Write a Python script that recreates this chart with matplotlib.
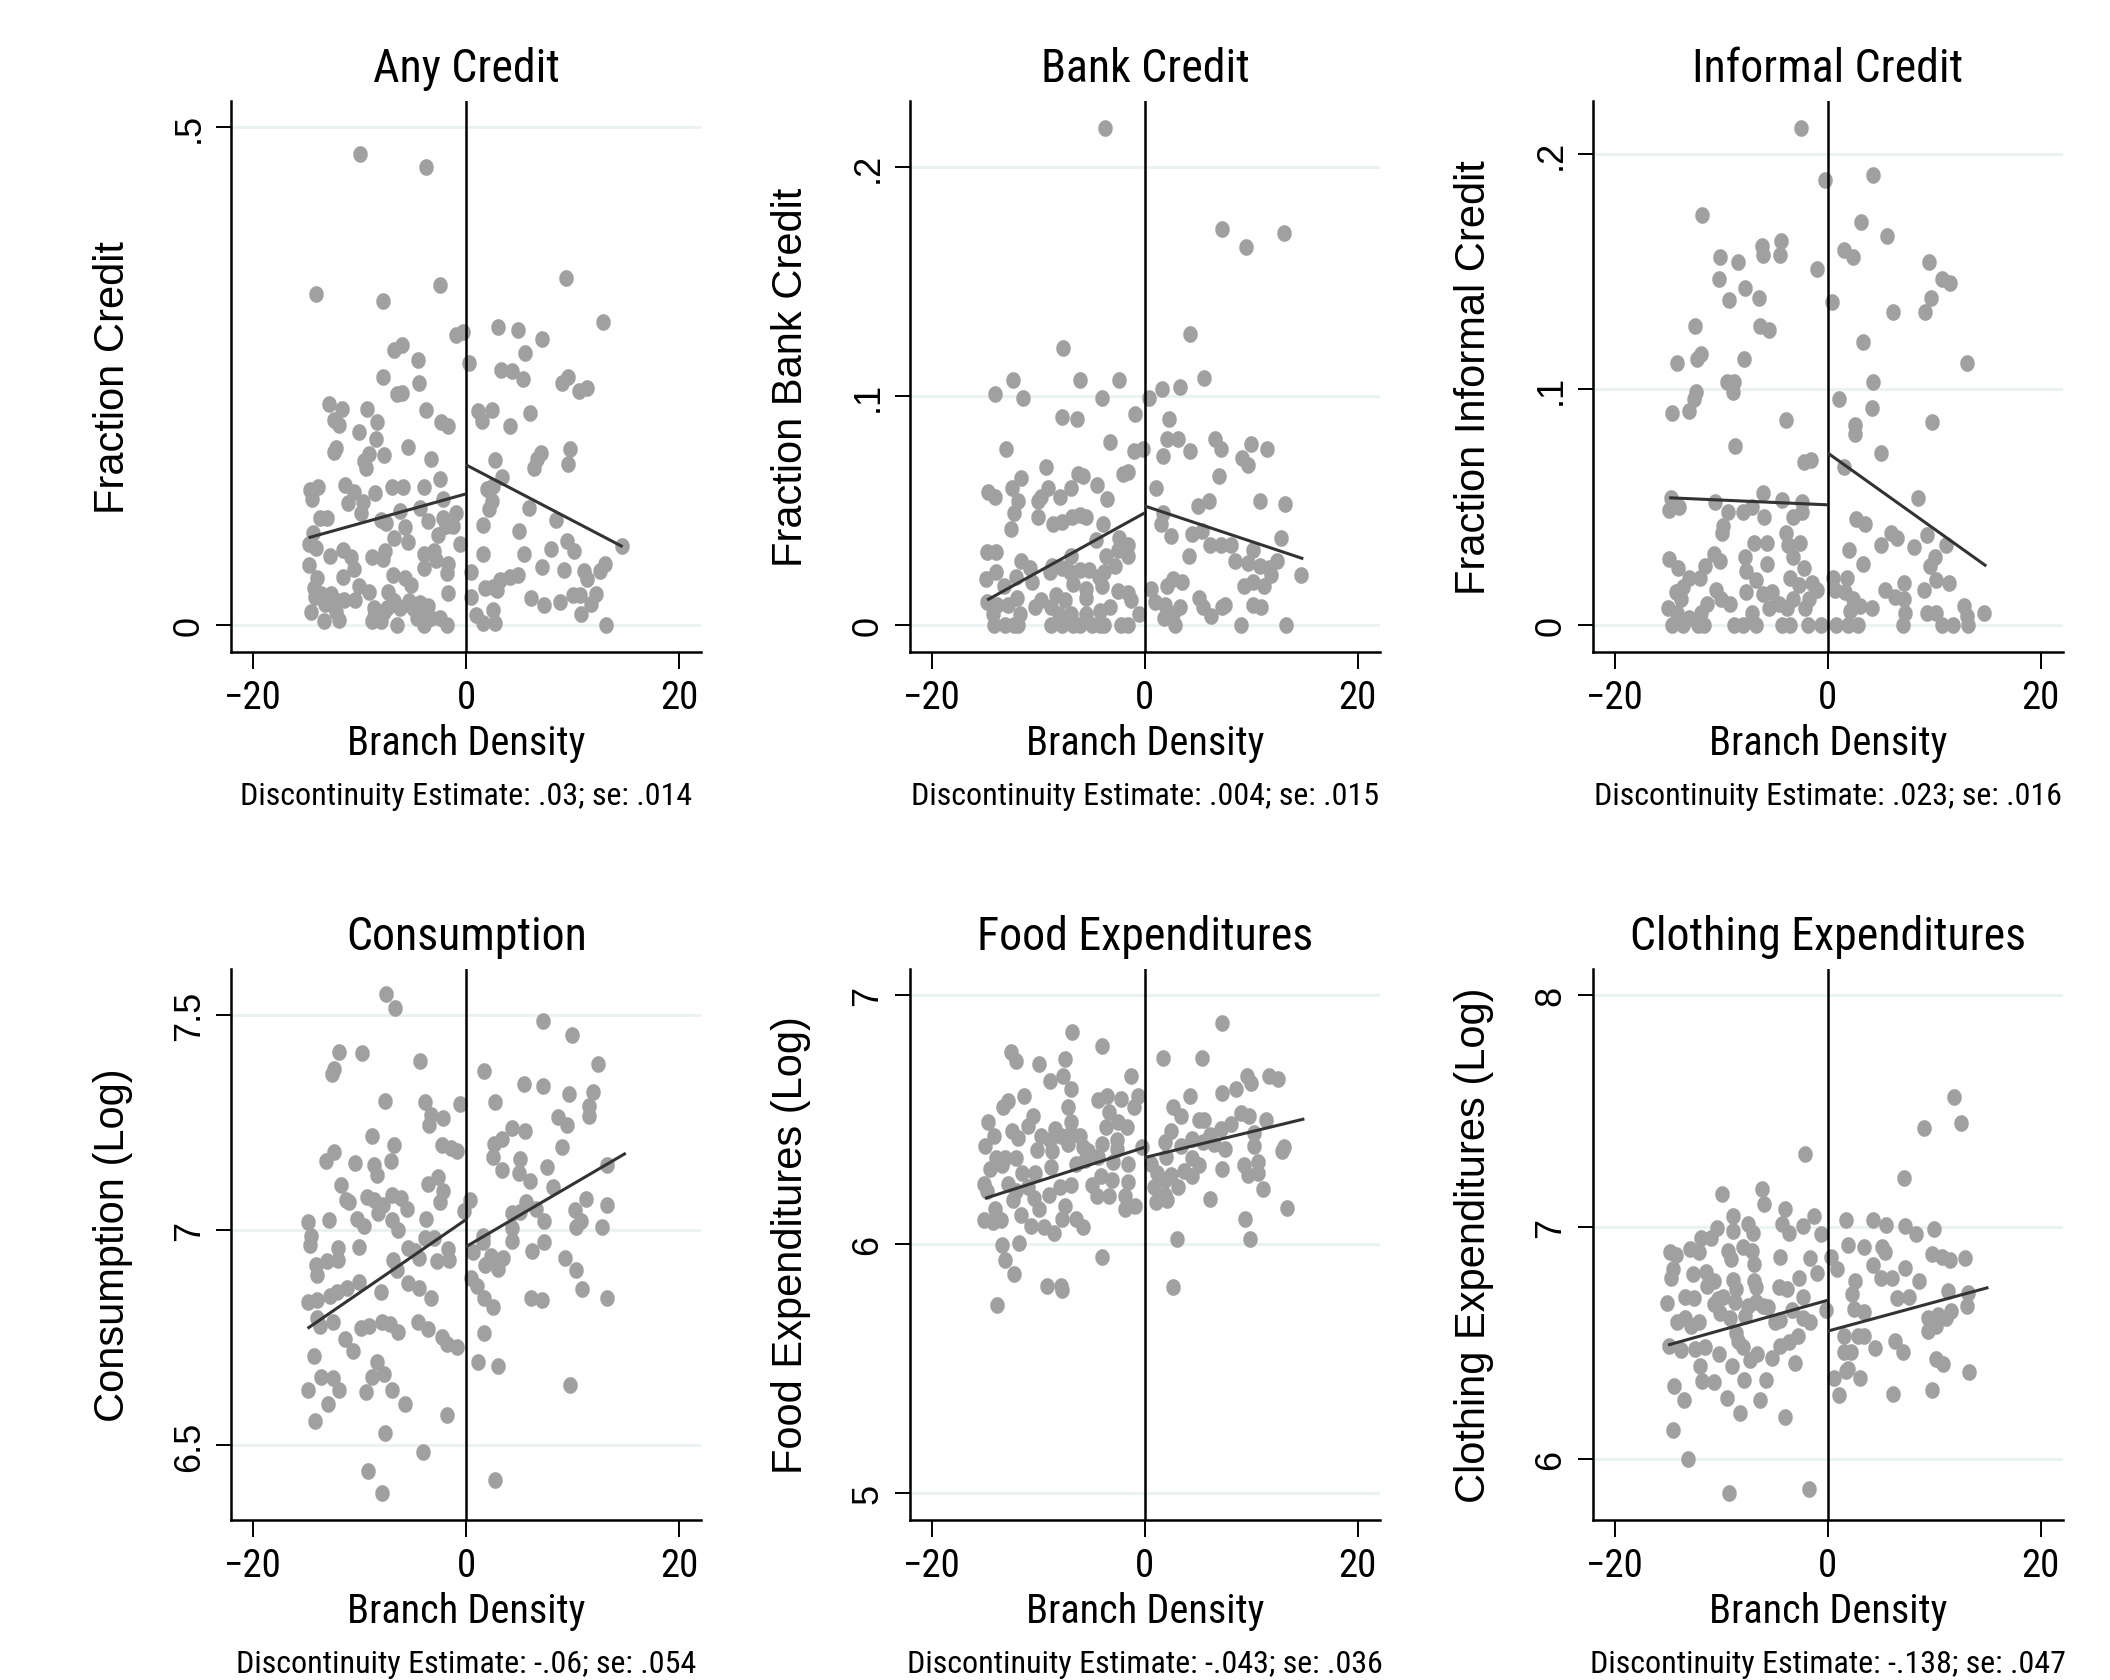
import numpy as np
import matplotlib.pyplot as plt
from matplotlib.path import Path
from matplotlib import font_manager

# ---- data (branch density, outcome) ----
any_credit_pts = [
    (-10.0, .473), (-3.8, .460), (-14.1, .332), (-7.8, .325), (-2.5, .341), (9.4, .348), (12.9, .304),
    (-1.0, .291), (-0.3, .294), (3.0, .299), (4.9, .296), (7.1, .287), (5.5, .273), (-6.8, .276),
    (-6.0, .281), (-4.5, .266), (0.3, .263), (-7.8, .249), (-4.4, .243), (-6.5, .232), (-6.0, .233),
    (3.3, .256), (4.3, .255), (5.3, .247), (9.0, .243), (9.6, .249), (10.6, .235), (11.4, .238),
    (-12.9, .222), (-11.7, .217), (-9.3, .217), (-3.8, .216), (1.1, .215), (2.4, .216), (1.5, .205),
    (-12.4, .206), (-11.9, .201), (-8.4, .204), (-2.4, .204), (-1.7, .200), (4.1, .200), (6.0, .213),
    (-10.1, .194), (-8.5, .187), (-5.5, .179), (-12.4, .174), (-12.2, .178), (-9.1, .172), (-7.7, .171),
    (-3.3, .167), (-9.4, .158), (-9.6, .165), (2.7, .166), (7.0, .173), (6.7, .167), (6.4, .158),
    (9.8, .177), (9.6, .162), (3.4, .149), (-2.5, .147), (-14.7, .136), (-13.9, .139), (-14.5, .127),
    (-11.4, .141), (-10.5, .134), (-11.1, .123), (-9.7, .124), (-9.9, .113), (-8.6, .133), (-7.0, .139),
    (-5.9, .139), (-4.0, .139), (-2.2, .127), (-4.3, .118), (-6.2, .115), (-1.0, .113), (2.0, .137),
    (2.5, .140), (2.4, .125), (2.1, .117), (5.9, .118), (8.4, .106), (-13.7, .108), (-13.1, .108),
    (-8.0, .106), (-7.5, .103), (-5.7, .099), (-3.6, .105), (-2.2, .108), (-1.9, .100), (-1.2, .100),
    (-2.6, .091), (-6.8, .088), (-5.5, .084), (-14.4, .093), (-14.8, .082), (-14.1, .078), (-0.6, .082),
    (1.6, .101), (5.0, .095), (9.5, .085), (10.1, .075), (8.0, .077), (5.4, .072), (14.6, .080),
    (1.6, .072), (-12.8, .070), (-11.6, .076), (-10.8, .069), (-10.5, .057), (-8.8, .069), (-7.8, .067),
    (-7.6, .075), (-4.0, .072), (-3.0, .075), (-2.8, .066), (-1.7, .062), (-4.0, .058), (-1.8, .053),
    (-14.8, .061), (-14.0, .048), (-11.6, .049), (-6.9, .051), (-5.7, .048), (-5.2, .041), (0.5, .054),
    (7.1, .059), (9.2, .056), (11.1, .055), (11.4, .047), (12.6, .055), (13.0, .062), (4.1, .049),
    (4.9, .051), (3.2, .046), (2.5, .039), (1.8, .038), (2.9, .036), (0.5, .029), (6.1, .028),
    (7.3, .021), (8.8, .024), (10.0, .031), (10.7, .031), (12.2, .032), (11.7, .022), (10.8, .011),
    (13.1, .000), (0.9, .010), (1.6, .002), (2.5, .015), (2.7, .002), (-1.7, .033), (-9.1, .034),
    (-10.1, .040), (-10.4, .026), (-14.3, .038), (-14.2, .029), (-13.6, .032), (-12.7, .032), (-13.3, .022),
    (-14.6, .013), (-12.1, .025), (-11.5, .026), (-11.9, .005), (-13.4, .004), (-8.7, .018), (-8.7, .008),
    (-8.0, .004), (-7.3, .034), (-6.8, .025), (-7.4, .018), (-6.5, .000), (-6.2, .018), (-5.4, .025),
    (-5.0, .018), (-4.3, .023), (-3.6, .020), (-4.0, .007), (-4.0, .000), (-3.3, .007), (-2.5, .007),
    (-1.8, .000), (-4.6, .007), (-8.8, .004), (-7.7, .013), (-12.2, .013), (-12.7, .022),
]

bank_credit_pts = [
    (-3.7, .217), (7.3, .173), (9.5, .165), (13.1, .171), (4.3, .127), (-7.7, .121), (-12.4, .107),
    (-6.1, .107), (-2.4, .107), (5.6, .108), (1.6, .103), (3.3, .104), (-14.1, .101), (-11.4, .099),
    (-4.0, .099), (0.4, .099), (-7.8, .091), (-6.4, .090), (-0.9, .092), (2.3, .090), (-13.0, .077),
    (-3.3, .080), (-1.0, .076), (-0.2, .077), (2.1, .081), (3.1, .081), (4.3, .076), (1.7, .074),
    (6.6, .081), (7.2, .077), (10.0, .079), (11.5, .077), (9.1, .073), (9.7, .070), (7.0, .065),
    (-9.3, .069), (-11.6, .064), (-12.5, .060), (-14.7, .058), (-14.1, .056), (-11.9, .054), (-12.3, .049),
    (-12.6, .042), (-10.0, .054), (-9.7, .056), (-9.1, .060), (-8.0, .056), (-10.0, .047), (-8.6, .044),
    (-7.8, .045), (-6.9, .060), (-6.3, .066), (-5.8, .065), (-4.5, .061), (-3.5, .055), (-6.8, .047),
    (-6.1, .048), (-5.5, .047), (-3.9, .044), (-2.0, .066), (-1.6, .067), (1.1, .060), (5.0, .052),
    (6.0, .054), (10.8, .054), (13.2, .053), (1.7, .049), (1.5, .044), (2.5, .039), (4.4, .040),
    (5.4, .041), (6.1, .035), (7.2, .035), (8.1, .035), (12.8, .038), (4.2, .030), (10.2, .033),
    (8.5, .028), (9.7, .027), (10.8, .026), (11.7, .025), (12.4, .028), (11.9, .022), (14.7, .022),
    (9.3, .017), (10.2, .019), (11.2, .017), (10.2, .009), (10.9, .008), (9.0, .000), (13.3, .000),
    (5.1, .012), (5.5, .008), (6.2, .004), (7.3, .008), (7.5, .009), (2.1, .017), (2.7, .020),
    (3.5, .019), (0.6, .016), (1.0, .010), (1.9, .009), (3.3, .008), (1.8, .003), (2.8, .000),
    (2.7, .005), (-0.5, .005), (-14.8, .032), (-14.0, .032), (-11.6, .028), (-10.8, .025), (-10.6, .019),
    (-14.9, .020), (-14.0, .023), (-13.2, .017), (-12.1, .021), (-14.8, .010), (-13.9, .009), (-14.3, .005),
    (-14.2, .000), (-13.1, .000), (-12.3, .000), (-11.9, .000), (-12.8, .009), (-11.7, .005), (-12.0, .012),
    (-10.3, .008), (-9.7, .011), (-8.8, .008), (-8.8, .000), (-7.8, .000), (-8.1, .005), (-8.3, .013),
    (-7.5, .011), (-6.9, .005), (-6.7, .000), (-6.1, .000), (-5.5, .005), (-5.5, .012), (-5.5, .016),
    (-5.0, .000), (-4.2, .000), (-3.8, .000), (-4.2, .006), (-3.3, .008), (-4.0, .017), (-4.3, .021),
    (-2.5, .015), (-1.6, .014), (-1.3, .011), (-2.2, .000), (-1.6, .000), (-8.7, .026), (-8.9, .023),
    (-7.8, .025), (-6.9, .030), (-7.0, .023), (-6.7, .018), (-6.1, .024), (-5.2, .024), (-4.6, .037),
    (-3.8, .023), (-3.6, .030), (-2.8, .026), (-2.4, .038), (-1.6, .035), (-1.6, .030), (-2.5, .033),
]

informal_credit_pts = [
    (-2.5, .211), (-0.3, .189), (4.3, .191), (-11.8, .174), (3.1, .171), (5.6, .165), (-6.2, .161),
    (-6.1, .157), (-4.4, .163), (-4.5, .157), (-10.1, .156), (-8.4, .154), (1.5, .159), (2.4, .156),
    (-1.0, .151), (9.5, .154), (10.7, .147), (11.5, .145), (-10.2, .147), (-7.8, .143), (-9.3, .138),
    (-6.5, .139), (0.4, .137), (6.1, .133), (9.1, .133), (9.7, .139), (-12.5, .127), (-6.4, .127),
    (-5.5, .125), (3.3, .120), (-11.9, .115), (-12.3, .113), (-14.2, .111), (-7.9, .113), (13.1, .111),
    (-9.5, .103), (-8.8, .103), (-8.9, .099), (-12.4, .099), (-12.6, .096), (-13.0, .091), (-14.6, .090),
    (4.3, .103), (1.1, .096), (4.2, .092), (-3.9, .087), (2.6, .085), (2.6, .081), (9.8, .086),
    (-8.7, .076), (-2.2, .069), (-1.6, .070), (1.5, .067), (5.0, .073), (-14.7, .054), (-14.9, .049),
    (-14.0, .050), (-10.6, .052), (-9.4, .048), (-8.0, .048), (-7.1, .050), (-6.1, .056), (-6.0, .046),
    (-4.3, .053), (-3.3, .046), (-2.4, .048), (-2.4, .052), (-9.8, .042), (-9.9, .039), (8.5, .054),
    (2.7, .045), (3.5, .043), (5.9, .039), (6.5, .037), (5.0, .034), (8.1, .033), (9.3, .038),
    (11.1, .034), (2.0, .032), (3.3, .026), (10.1, .029), (9.6, .025), (10.2, .019), (11.4, .018),
    (9.0, .015), (7.2, .018), (5.4, .015), (6.3, .012), (7.2, .011), (4.2, .007), (7.3, .005),
    (7.1, .000), (9.3, .005), (10.2, .005), (10.7, .000), (11.8, .000), (12.8, .008), (13.1, .004),
    (13.2, .000), (14.7, .005), (-6.9, .035), (-5.7, .035), (-3.9, .039), (-3.7, .034), (-2.6, .035),
    (-3.3, .029), (-2.2, .024), (-5.7, .026), (-7.8, .029), (-7.7, .023), (-14.9, .028), (-14.1, .024),
    (-10.7, .030), (-10.1, .027), (-11.5, .025), (-12.0, .020), (-13.0, .020), (-13.6, .016), (-14.3, .014),
    (-13.8, .011), (-15.0, .007), (-14.2, .005), (-14.6, .000), (-13.6, .000), (-13.0, .003), (-12.2, .000),
    (-11.6, .000), (-11.9, .005), (-11.3, .009), (-10.5, .015), (-10.0, .011), (-9.2, .009), (-8.8, .000),
    (-8.0, .000), (-7.1, .005), (-6.7, .000), (-7.7, .014), (-6.7, .019), (-6.1, .013), (-5.2, .014),
    (-5.5, .007), (-4.6, .009), (-4.3, .000), (-3.5, .000), (-3.8, .007), (-3.3, .011), (-3.5, .020),
    (-2.7, .017), (-1.5, .018), (-1.0, .015), (-1.8, .011), (-2.1, .007), (-1.9, .000), (-0.6, .000),
    (0.5, .020), (1.8, .020), (0.7, .015), (1.6, .014), (2.4, .011), (3.0, .008), (2.1, .006),
    (0.8, .000), (1.9, .000), (2.8, .000),
]

consumption_pts = [
    (-7.5, 7.548), (-6.7, 7.517), (7.2, 7.485), (9.9, 7.453), (-11.9, 7.415), (-9.8, 7.411), (-4.3, 7.393),
    (12.4, 7.386), (-12.6, 7.362), (-12.4, 7.374), (1.7, 7.369), (5.4, 7.340), (7.2, 7.334), (9.7, 7.316),
    (11.9, 7.322), (-7.6, 7.300), (-3.9, 7.299), (-0.6, 7.293), (2.7, 7.299), (-3.3, 7.267), (-3.5, 7.245),
    (-2.2, 7.261), (11.5, 7.288), (11.5, 7.266), (8.6, 7.262), (9.5, 7.244), (4.3, 7.238), (5.5, 7.230),
    (-8.8, 7.220), (-6.8, 7.197), (-2.3, 7.197), (-0.9, 7.183), (-1.4, 7.191), (2.6, 7.201), (3.4, 7.212),
    (9.0, 7.193), (-12.4, 7.181), (-13.2, 7.162), (-10.4, 7.157), (-7.1, 7.161), (-8.7, 7.152), (-8.4, 7.129),
    (2.5, 7.169), (5.1, 7.166), (3.4, 7.140), (5.0, 7.134), (6.0, 7.115), (7.6, 7.146), (13.2, 7.151),
    (-2.6, 7.123), (-3.6, 7.107), (-11.8, 7.104), (-11.0, 7.066), (-11.3, 7.070), (-9.3, 7.077), (-8.7, 7.070),
    (-8.3, 7.041), (-7.8, 7.058), (-7.0, 7.083), (-6.1, 7.074), (-5.6, 7.049), (-7.0, 7.024), (-6.4, 7.000),
    (-2.2, 7.091), (-2.5, 7.066), (0.4, 7.070), (-0.2, 7.045), (8.2, 7.100), (5.6, 7.066), (4.3, 7.041),
    (5.1, 7.043), (6.6, 7.049), (11.3, 7.073), (10.2, 7.047), (13.2, 7.059), (10.8, 7.022), (10.3, 7.008),
    (7.3, 7.021), (4.3, 7.005), (12.8, 7.007), (-14.9, 7.019), (-12.9, 7.024), (-10.3, 7.025), (-9.6, 7.011),
    (-3.8, 7.025), (-14.6, 6.986), (-14.7, 6.966), (-12.0, 6.958), (-12.0, 6.932), (-10.1, 6.962), (-13.1, 6.929),
    (-14.1, 6.920), (-14.0, 6.895), (-6.9, 6.931), (-6.5, 6.907), (-5.5, 6.959), (-4.8, 6.952), (-4.4, 6.935),
    (-3.9, 6.981), (-3.0, 6.981), (-2.7, 6.928), (-1.7, 6.956), (-1.6, 6.932), (0.6, 6.949), (1.6, 6.986),
    (1.6, 6.973), (2.3, 6.941), (1.8, 6.920), (3.0, 6.909), (3.5, 6.935), (4.3, 6.975), (6.2, 6.952),
    (7.3, 6.973), (9.3, 6.935), (10.3, 6.907), (10.9, 6.863), (13.2, 6.843), (0.5, 6.888), (1.0, 6.871),
    (1.7, 6.842), (2.5, 6.821), (6.1, 6.842), (7.1, 6.838), (-14.9, 6.833), (-14.0, 6.838), (-12.8, 6.848),
    (-12.1, 6.856), (-11.2, 6.865), (-10.1, 6.880), (-8.0, 6.856), (-5.5, 6.877), (-4.4, 6.865), (-3.3, 6.843),
    (-14.0, 6.795), (-13.7, 6.777), (-12.5, 6.788), (-9.9, 6.774), (-9.1, 6.778), (-7.9, 6.787), (-7.2, 6.783),
    (-6.4, 6.763), (-4.5, 6.788), (-3.6, 6.770), (-2.3, 6.753), (-1.8, 6.736), (-0.9, 6.728), (-11.4, 6.747),
    (-10.6, 6.719), (1.7, 6.761), (-14.3, 6.708), (-8.4, 6.695), (1.1, 6.695), (3.0, 6.684), (-13.6, 6.660),
    (-12.5, 6.656), (-11.9, 6.630), (-8.8, 6.660), (-7.7, 6.666), (-14.9, 6.630), (-9.4, 6.624), (-7.0, 6.629),
    (9.8, 6.641), (-13.0, 6.596), (-5.7, 6.596), (-14.2, 6.558), (-1.8, 6.571), (-7.6, 6.529), (-4.1, 6.486),
    (-9.2, 6.440), (2.7, 6.421), (-7.9, 6.389),
]

food_pts = [
    (7.3, 6.886), (-6.8, 6.851), (-4.0, 6.793), (-12.6, 6.771), (-12.1, 6.734), (-9.9, 6.721), (-7.5, 6.740),
    (1.7, 6.747), (5.4, 6.746), (-8.9, 6.654), (-7.7, 6.672), (-6.9, 6.620), (-1.3, 6.672), (9.6, 6.672),
    (10.0, 6.647), (11.7, 6.674), (12.5, 6.661), (8.6, 6.620), (7.3, 6.603), (4.3, 6.594), (-11.3, 6.591),
    (-12.8, 6.572), (-13.3, 6.547), (-4.4, 6.577), (-3.5, 6.594), (-2.2, 6.581), (-0.6, 6.591), (-1.0, 6.547),
    (-7.2, 6.547), (-3.4, 6.530), (2.7, 6.547), (3.4, 6.514), (-14.7, 6.489), (-10.5, 6.514), (-11.0, 6.474),
    (-6.9, 6.489), (-2.5, 6.489), (-1.7, 6.467), (-3.6, 6.467), (5.1, 6.496), (5.6, 6.496), (9.0, 6.526),
    (9.8, 6.511), (11.4, 6.496), (8.1, 6.482), (7.2, 6.460), (-12.5, 6.453), (-11.9, 6.423), (-14.2, 6.431),
    (-15.0, 6.394), (-9.7, 6.431), (-8.4, 6.460), (-8.9, 6.416), (-7.9, 6.431), (-6.9, 6.445), (-6.1, 6.431),
    (-5.8, 6.387), (-7.2, 6.401), (-5.3, 6.372), (-4.0, 6.401), (-2.6, 6.416), (-2.6, 6.380), (-0.3, 6.387),
    (-8.7, 6.372), (-10.1, 6.377), (2.5, 6.453), (1.9, 6.409), (3.4, 6.394), (4.4, 6.419), (5.5, 6.409),
    (6.1, 6.438), (6.5, 6.401), (7.5, 6.380), (10.3, 6.445), (10.3, 6.394), (13.1, 6.387), (12.9, 6.372),
    (2.0, 6.350), (0.6, 6.321), (-14.0, 6.343), (-13.1, 6.343), (-12.1, 6.343), (-14.5, 6.299), (-13.4, 6.314),
    (-11.5, 6.285), (-10.3, 6.285), (-8.8, 6.307), (-6.5, 6.321), (-5.6, 6.336), (-4.4, 6.350), (-3.0, 6.328),
    (-1.6, 6.321), (-4.1, 6.270), (-3.1, 6.255), (-1.6, 6.248), (4.4, 6.343), (5.1, 6.314), (3.7, 6.292),
    (4.4, 6.270), (7.3, 6.299), (9.3, 6.314), (10.6, 6.328), (9.7, 6.277), (10.6, 6.285), (1.2, 6.285),
    (1.9, 6.255), (2.5, 6.277), (3.1, 6.226), (0.9, 6.226), (1.9, 6.197), (1.1, 6.168), (2.1, 6.175),
    (11.1, 6.219), (6.1, 6.180), (13.4, 6.142), (9.4, 6.099), (9.9, 6.020), (3.0, 6.019), (2.7, 5.825),
    (-15.1, 6.241), (-14.8, 6.212), (-12.8, 6.241), (-12.1, 6.212), (-11.0, 6.226), (-12.4, 6.175), (-10.4, 6.182),
    (-9.9, 6.139), (-9.0, 6.197), (-8.0, 6.226), (-6.9, 6.234), (-7.5, 6.153), (-5.0, 6.234), (-4.5, 6.190),
    (-3.4, 6.193), (-1.9, 6.190), (-1.9, 6.139), (-0.9, 6.153), (-15.1, 6.095), (-14.3, 6.088), (-13.5, 6.095),
    (-14.1, 6.139), (-11.6, 6.117), (-10.7, 6.073), (-9.5, 6.066), (-8.5, 6.041), (-7.8, 6.098), (-6.5, 6.098),
    (-5.8, 6.066), (-13.4, 5.993), (-11.8, 6.004), (-13.1, 5.934), (-12.3, 5.880), (-4.0, 5.945), (-9.2, 5.832),
    (-7.9, 5.829), (-7.8, 5.815), (-13.9, 5.755),
]

clothing_pts = [
    (11.9, 7.561), (12.5, 7.447), (9.0, 7.426), (-2.1, 7.313), (7.2, 7.212), (-9.9, 7.139), (-6.2, 7.161),
    (-6.0, 7.099), (-4.0, 7.078), (-8.9, 7.044), (-7.5, 7.013), (-7.0, 6.973), (-8.9, 6.981), (-10.4, 6.994),
    (-11.0, 6.950), (-11.9, 6.953), (-4.3, 7.013), (-3.6, 6.973), (-2.3, 7.005), (-1.3, 7.047), (-0.6, 6.969),
    (1.7, 7.031), (4.3, 7.031), (5.5, 7.008), (7.3, 7.005), (8.3, 6.969), (10.0, 6.989), (1.9, 6.923),
    (3.4, 6.911), (5.1, 6.911), (5.4, 6.890), (9.8, 6.884), (10.7, 6.868), (11.5, 6.856), (12.9, 6.867),
    (7.3, 6.821), (4.3, 6.835), (5.0, 6.781), (6.0, 6.781), (8.6, 6.768), (0.3, 6.868), (0.9, 6.817),
    (-1.7, 6.864), (-4.5, 6.868), (-6.9, 6.840), (-8.0, 6.911), (-7.1, 6.895), (-9.4, 6.895), (-9.1, 6.860),
    (-12.9, 6.903), (-12.1, 6.890), (-14.8, 6.890), (-14.3, 6.879), (-14.5, 6.817), (-14.7, 6.777), (-12.7, 6.796),
    (-11.4, 6.806), (-10.7, 6.765), (-11.3, 6.746), (-8.9, 6.770), (-8.6, 6.730), (-6.9, 6.765), (-6.7, 6.738),
    (-4.6, 6.738), (-3.8, 6.730), (-2.7, 6.777), (-1.0, 6.801), (-2.3, 6.699), (2.6, 6.766), (2.3, 6.712),
    (2.5, 6.644), (3.4, 6.633), (6.5, 6.691), (7.6, 6.699), (11.3, 6.723), (13.2, 6.715), (13.1, 6.660),
    (11.6, 6.636), (9.4, 6.605), (10.4, 6.621), (9.8, 6.589), (11.1, 6.605), (9.4, 6.550), (10.2, 6.574),
    (-13.4, 6.699), (-12.6, 6.691), (-15.1, 6.671), (-10.7, 6.668), (-10.3, 6.687), (-9.8, 6.699), (-8.7, 6.676),
    (-10.1, 6.629), (-9.2, 6.605), (-7.5, 6.660), (-6.7, 6.676), (-6.1, 6.660), (-5.6, 6.652), (-7.8, 6.613),
    (-5.0, 6.589), (-4.5, 6.597), (-3.4, 6.640), (-2.3, 6.605), (-1.7, 6.589), (-0.2, 6.640), (-14.2, 6.589),
    (-13.4, 6.605), (-12.1, 6.589), (-12.8, 6.574), (-14.9, 6.487), (-13.8, 6.467), (-12.5, 6.472), (-11.5, 6.480),
    (-8.6, 6.542), (-8.4, 6.508), (-8.0, 6.480), (-10.2, 6.451), (-7.3, 6.425), (-6.6, 6.451), (-5.2, 6.436),
    (-4.5, 6.487), (-3.6, 6.503), (-2.8, 6.527), (-3.1, 6.412), (1.5, 6.527), (2.8, 6.527), (3.4, 6.527),
    (4.4, 6.476), (1.5, 6.461), (2.2, 6.461), (6.3, 6.506), (7.1, 6.461), (10.2, 6.428), (10.8, 6.409),
    (1.7, 6.378), (1.9, 6.386), (0.6, 6.346), (3.0, 6.346), (1.1, 6.276), (6.1, 6.279), (9.8, 6.295),
    (13.3, 6.375), (-12.0, 6.401), (-11.8, 6.334), (-10.7, 6.331), (-9.0, 6.398), (-7.9, 6.339), (-5.8, 6.339),
    (-14.4, 6.312), (-13.5, 6.252), (-9.5, 6.260), (-6.4, 6.255), (-8.2, 6.197), (-4.0, 6.179), (-14.5, 6.122),
    (-13.1, 5.997), (-9.3, 5.853), (-1.8, 5.871),
]

# linear fits on each side of the cutoff: (x0, y0, x1, y1)
any_credit_fit = [(-14.8, .088, 0, .132), (0, .161, 14.7, .079)]
bank_credit_fit = [(-14.8, .011, 0, .049), (0, .052, 14.9, .029)]
informal_credit_fit = [(-14.9, .054, 0, .051), (0, .073, 14.9, .025)]
consumption_fit = [(-14.9, 6.772, 0, 7.025), (0, 6.962, 15.0, 7.179)]
food_fit = [(-15.0, 6.182, 0, 6.387), (0, 6.346, 15.0, 6.501)]
clothing_fit = [(-15.0, 6.490, 0, 6.683), (0, 6.550, 15.1, 6.738)]

titles = ['Any Credit', 'Bank Credit', 'Informal Credit',
          'Consumption', 'Food Expenditures', 'Clothing Expenditures']
ylabels = ['Fraction Credit', 'Fraction Bank Credit', 'Fraction Informal Credit',
           'Consumption (Log)', 'Food Expenditures (Log)', 'Clothing Expenditures (Log)']
notes = ['Discontinuity Estimate: .03; se: .014', 'Discontinuity Estimate: .004; se: .015',
         'Discontinuity Estimate: .023; se: .016', 'Discontinuity Estimate: -.06; se: .054',
         'Discontinuity Estimate: -.043; se: .036', 'Discontinuity Estimate: -.138; se: .047']
yticks = [[0, .5], [0, .1, .2], [0, .1, .2], [6.5, 7, 7.5], [5, 6, 7], [6, 7, 8]]
yticklabels = [['0', '.5'], ['0', '.1', '.2'], ['0', '.1', '.2'],
               ['6.5', '7', '7.5'], ['5', '6', '7'], ['6', '7', '8']]
ylims = [(-0.0267, 0.526), (-0.0117, 0.2286), (-0.0115, 0.2224),
         (6.327, 7.607), (4.891, 7.103), (5.736, 8.111)]
xticks = [-20, 0, 20]

all_pts = [any_credit_pts, bank_credit_pts, informal_credit_pts,
           consumption_pts, food_pts, clothing_pts]
all_fits = [any_credit_fit, bank_credit_fit, informal_credit_fit,
            consumption_fit, food_fit, clothing_fit]

# the reference text is a squeezed Arial; use a condensed face when one exists
installed = {f.name for f in font_manager.fontManager.ttflist}
condensed = [n for n in ['Liberation Sans Narrow', 'Roboto Condensed', 'Open Sans Condensed']
             if n in installed]
if condensed:
    narrow = [condensed[0], 'Liberation Sans', 'DejaVu Sans']
    k = 1.0
else:
    narrow = ['Liberation Sans', 'DejaVu Sans']
    k = 0.9   # shrink a bit so the widths come closer
wide = ['Liberation Sans', 'DejaVu Sans']
plt.rcParams['font.family'] = narrow

# the original export is squeezed horizontally, so dots are slightly oval
t = np.linspace(0, 2 * np.pi, 80)
dot = Path(np.column_stack([0.87 * np.cos(t), np.sin(t)]), closed=True)

fig = plt.figure(figsize=(21.10, 16.81), dpi=100)
lefts = [0.1097, 0.4313, 0.7550]
bottoms = [0.6115, 0.0952]

for i in range(6):
    ax = fig.add_axes([lefts[i % 3], bottoms[i // 3], 0.2227, 0.3278])
    xy = np.array(all_pts[i])
    ax.scatter(xy[:, 0], xy[:, 1], s=144, marker=dot, color='#a0a0a0',
               linewidths=0, zorder=2)
    for x0, y0, x1, y1 in all_fits[i]:
        ax.plot([x0, x1], [y0, y1], color='#333333', lw=2.2, zorder=4,
                solid_capstyle='butt')
    ax.axvline(0, color='black', lw=1.8, zorder=3)

    ax.set_xlim(-22.05, 22.1)
    ax.set_ylim(*ylims[i])
    ax.set_xticks(xticks)
    ax.set_yticks(yticks[i])
    ax.set_yticklabels(yticklabels[i], rotation=90, va='center',
                       family=wide, fontsize=26)
    ax.tick_params(axis='x', length=12.2, width=1.4, pad=7, labelsize=28 * k)
    ax.tick_params(axis='y', length=10.8, width=1.4, pad=7)
    ax.yaxis.grid(True, color='#eaf2f3', lw=2.2)
    ax.set_axisbelow(True)
    for side in ['top', 'right']:
        ax.spines[side].set_visible(False)
    for side in ['left', 'bottom']:
        ax.spines[side].set_linewidth(1.8)

    ax.set_title(titles[i], fontsize=33 * k, pad=14.6)
    ax.set_xlabel('Branch Density', fontsize=29 * k, labelpad=5 + 2 * (1 - k) * 10)
    ax.set_ylabel(ylabels[i], fontsize=30, family=wide, labelpad=28)
    ax.annotate(notes[i], xy=(0.5, 0), xycoords='axes fraction',
                xytext=(0, -109.2), textcoords='offset points',
                ha='center', va='baseline', fontsize=23 * k)

fig.savefig('out.png', dpi=100, facecolor='white')
